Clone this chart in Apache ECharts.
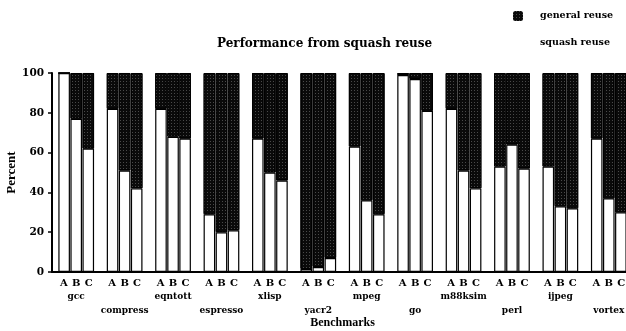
<!DOCTYPE html>
<html><head><meta charset="utf-8">
<script src="https://cdn.jsdelivr.net/npm/echarts@6/dist/echarts.min.js"></script>
<style>html,body{margin:0;padding:0;background:#fff}#c{width:626px;height:331px}</style>
</head><body><div id="c"></div>
<script>
const categories = ['gcc','compress','eqntott','espresso','xlisp','yacr2','mpeg','go','m88ksim','perl','ijpeg','vortex'];
const squashA = [100, 82, 82, 29, 67, 1.5, 63, 99, 82, 53, 53, 67];
const squashB = [77, 51, 68, 20, 50, 2.5, 36, 97, 51, 64, 33, 37];
const squashC = [62, 42, 67, 21, 46, 7, 29, 81, 42, 52, 32, 30];
const generalA = [0, 18, 18, 71, 33, 98.5, 37, 1, 18, 47, 47, 33];
const generalB = [23, 49, 32, 80, 50, 97.5, 64, 3, 49, 36, 67, 63];
const generalC = [38, 58, 33, 79, 54, 93, 71, 19, 58, 48, 68, 70];
const yTicks = [0, 20, 40, 60, 80, 100];

const SERIF = 'Liberation Serif';
const WIDE = 'DejaVu Serif';
const darkStyle = {
  color: '#0a0a0a', borderColor: '#000', borderWidth: 1,
  decal: { symbol: 'rect', symbolSize: 1, color: 'rgba(170,170,170,0.4)', dashArrayX: [1, 2], dashArrayY: [1, 2], rotation: 0 }
};
const whiteStyle = { color: '#fff', borderColor: '#000', borderWidth: 1.2 };

function sq(stack, data) {
  return { name: 'squash reuse', type: 'bar', stack: stack, data: data, barWidth: 11.6, barGap: '4%', itemStyle: whiteStyle };
}
function gen(stack, data) {
  return { name: 'general reuse', type: 'bar', stack: stack, data: data, barWidth: 11.6, barGap: '4%', itemStyle: darkStyle };
}

const chart = echarts.init(document.getElementById('c'), null, { renderer: 'canvas' });
chart.setOption({
  animation: false,
  backgroundColor: '#fff',
  title: {
    text: 'Performance from squash reuse', left: 212, top: 33,
    textStyle: { fontFamily: WIDE, fontWeight: 'bold', fontSize: 12, color: '#000' }
  },
  legend: {
    orient: 'vertical', left: 508, top: 6, itemWidth: 10, itemHeight: 10, itemGap: 17,
    textStyle: { fontFamily: WIDE, fontWeight: 'bold', fontSize: 9.5, color: '#000', padding: [0, 0, 0, 12] },
    data: [
      { name: 'general reuse', itemStyle: { borderWidth: 0 } },
      { name: 'squash reuse', itemStyle: { borderWidth: 0, color: '#fff' } }
    ]
  },
  grid: { left: 52, right: -7, top: 73, bottom: 59, containLabel: false, outerBoundsMode: 'none' },
  xAxis: {
    type: 'category', data: categories,
    name: 'Benchmarks', nameLocation: 'middle', nameGap: 45, nameMoveOverlap: false,
    nameTextStyle: { fontFamily: SERIF, fontWeight: 'bold', fontSize: 12, color: '#000' },
    axisLine: { lineStyle: { color: '#000', width: 2 } },
    axisTick: { show: false },
    axisLabel: {
      interval: 0, margin: 6,
      formatter: function (v, i) {
        const abc = '{a|A}{a|B}{a|C}';
        return i % 2 === 0 ? abc + '\n{n1|' + v + '}' : abc + '\n{n2|' + v + '}';
      },
      rich: {
        a: { width: 12.4, align: 'center', fontFamily: WIDE, fontWeight: 'bold', fontSize: 10, color: '#000', lineHeight: 11 },
        n1: { fontFamily: WIDE, fontWeight: 'bold', fontSize: 9, color: '#000', lineHeight: 15 },
        n2: { fontFamily: WIDE, fontWeight: 'bold', fontSize: 9, color: '#000', lineHeight: 15, padding: [28, 0, 0, 0] }
      }
    }
  },
  yAxis: {
    type: 'value', min: 0, max: 100, interval: 20,
    name: 'Percent', nameLocation: 'middle', nameGap: 34, nameMoveOverlap: false, nameRotate: 90,
    nameTextStyle: { fontFamily: SERIF, fontWeight: 'bold', fontSize: 13, color: '#000' },
    axisLine: { show: true, lineStyle: { color: '#000', width: 2 } },
    axisTick: { show: true, length: 4, lineStyle: { color: '#000', width: 1.5 } },
    splitLine: { show: false },
    axisLabel: {
      margin: 8, fontFamily: WIDE, fontWeight: 'bold', fontSize: 10.5, color: '#000',
      formatter: function (v) { return yTicks.indexOf(v) >= 0 ? String(v) : ''; }
    }
  },
  series: [
    sq('A', squashA), gen('A', generalA),
    sq('B', squashB), gen('B', generalB),
    sq('C', squashC), gen('C', generalC)
  ]
});
</script></body></html>
